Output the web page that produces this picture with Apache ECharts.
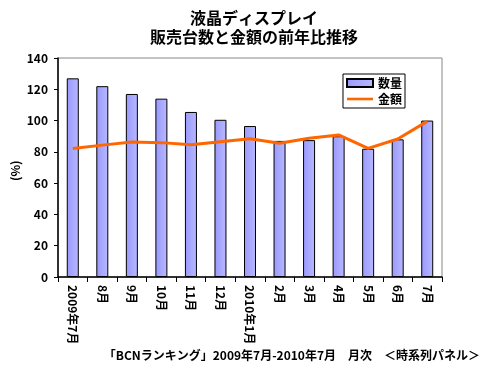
<!DOCTYPE html>
<html><head><meta charset="utf-8">
<script src="https://cdn.jsdelivr.net/npm/echarts@6/dist/echarts.min.js"></script>
<style>html,body{margin:0;padding:0;background:#fff}#c{width:495px;height:371px}</style>
</head><body><div id="c"></div>
<script>
const categories = ['2009年7月','8月','9月','10月','11月','12月','2010年1月','2月','3月','4月','5月','6月','7月'];
const quantity = [127, 122, 117, 114, 105.5, 100.5, 96.5, 87, 87.5, 90, 82, 88, 100];
const amount = [82.2, 84.3, 86.3, 85.9, 84.5, 86.5, 88.4, 85.5, 88.7, 90.8, 82.2, 88.2, 99.5];
const yTicks = [0, 20, 40, 60, 80, 100, 120, 140];
const titleLines = ['液晶ディスプレイ', '販売台数と金額の前年比推移'];
const footnote = '「BCNランキング」2009年7月-2010年7月　月次　＜時系列パネル＞';

const F = '"Noto Sans CJK JP", "Liberation Sans", sans-serif';
const chart = echarts.init(document.getElementById('c'), null, {renderer: 'canvas'});
chart.setOption({
  animation: false,
  backgroundColor: '#fff',
  title: [{
    text: titleLines.join('\n'), left: 249, top: 3, textAlign: 'center',
    textStyle: {fontFamily: F, fontSize: 16, fontWeight: 'bold', color: '#000', lineHeight: 19}
  }, {
    text: footnote, right: 10, bottom: 5,
    textStyle: {fontFamily: F, fontSize: 12, fontWeight: 'bold', color: '#000'}
  }],
  graphic: [{
    type: 'text', x: 9, y: 181, rotation: Math.PI / 2,
    style: {text: '(%)', font: 'bold 12px ' + F, fill: '#000'}
  }],
  legend: {
    right: 90, top: 74, orient: 'vertical', itemGap: 4, itemWidth: 26, itemHeight: 8,
    backgroundColor: '#fff', borderColor: '#000', borderWidth: 1, padding: [3, 3, 3, 3],
    textStyle: {fontFamily: F, fontSize: 12, fontWeight: 'bold', color: '#000'},
    data: [{name: '数量', icon: 'rect'}, {name: '金額', icon: 'path://M0,0H30V3H0Z'}]
  },
  grid: {left: 58, right: 53, top: 58, bottom: 94, show: true, borderColor: '#888', borderWidth: 1},
  xAxis: {
    type: 'category', data: categories,
    axisLine: {lineStyle: {color: '#000', width: 1.5}},
    axisTick: {show: true, alignWithLabel: false, length: 5, lineStyle: {color: '#000'}},
    axisLabel: {rotate: -90, interval: 0, margin: 8, fontFamily: F, fontSize: 12, fontWeight: 'bold', color: '#000'}
  },
  yAxis: {
    type: 'value', min: 0, max: 140, interval: 20,
    axisLine: {show: true, lineStyle: {color: '#000', width: 1.5}},
    axisTick: {show: true, length: 4, lineStyle: {color: '#000'}},
    splitLine: {show: false},
    axisLabel: {margin: 10, fontFamily: F, fontSize: 12, fontWeight: 'bold', color: '#000',
      formatter: v => yTicks.includes(v) ? String(v) : ''}
  },
  series: [{
    name: '数量', type: 'bar', data: quantity, barWidth: 12,
    itemStyle: {
      color: new echarts.graphic.LinearGradient(0, 0, 1, 0, [
        {offset: 0, color: '#9999ff'}, {offset: 1, color: '#b8b8ff'}]),
      borderColor: '#000', borderWidth: 1
    }
  }, {
    name: '金額', type: 'line', data: amount, symbol: 'none',
    lineStyle: {color: '#ff6600', width: 3}, itemStyle: {color: '#ff6600'}
  }]
});
</script></body></html>
